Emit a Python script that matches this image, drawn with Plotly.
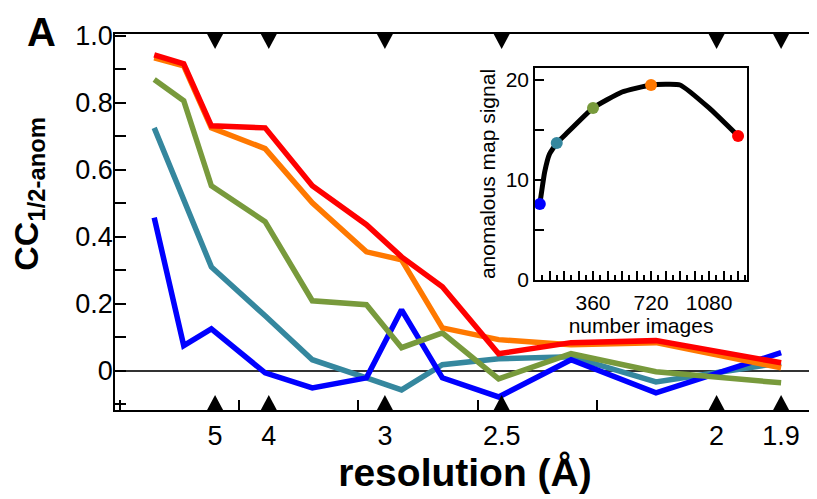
import plotly.graph_objects as go

# ---------------- data ----------------
# resolution (Å) of the bin points
resolution_A = [8.3, 6.1, 5.1, 4.05, 3.52, 3.11, 2.91, 2.72, 2.51, 2.30, 2.11, 1.90]
cc_red    = [0.943, 0.916, 0.731, 0.725, 0.552, 0.436, 0.340, 0.251, 0.051, 0.084, 0.090, 0.024]
cc_orange = [0.934, 0.910, 0.725, 0.663, 0.501, 0.355, 0.331, 0.128, 0.093, 0.078, 0.084, 0.009]
cc_green  = [0.869, 0.806, 0.552, 0.445, 0.209, 0.197, 0.069, 0.113, -0.024, 0.051, -0.003, -0.036]
cc_teal   = [0.725, 0.516, 0.310, 0.164, 0.033, -0.021, -0.057, 0.018, 0.036, 0.042, -0.033, 0.024]
cc_blue   = [0.457, 0.075, 0.125, -0.006, -0.051, -0.021, 0.182, -0.021, -0.078, 0.033, -0.066, 0.054]

# labelled resolution marks
res_ticks = [5, 4, 3, 2.5, 2, 1.9]
res_tick_text = ["5", "4", "3", "2.5", "2", "1.9"]

# inset: anomalous map signal vs number of images
n_images = [30, 60, 90, 135, 180, 360, 540, 720, 900, 1080, 1260]
map_signal = [7.6, 10.8, 12.6, 13.7, 14.4, 17.2, 18.8, 19.5, 19.5, 17.2, 14.4]
marker_images = [30, 135, 360, 720, 1260]
marker_signal = [7.6, 13.7, 17.2, 19.5, 14.4]

RED, ORANGE, GREEN, TEAL, BLUE = "#FF0000", "#FF7800", "#789A3C", "#35879E", "#0000FF"
series = [(cc_teal, TEAL), (cc_blue, BLUE), (cc_green, GREEN), (cc_orange, ORANGE), (cc_red, RED)]

inv_d2 = [1.0 / r ** 2 for r in resolution_A]
tick_pos = [1.0 / r ** 2 for r in res_ticks]

FAM = "Liberation Sans, Arial, sans-serif"
TICKFONT = dict(family=FAM, size=27, color="black")
INSETFONT = dict(family=FAM, size=21, color="black")

fig = go.Figure()
for vals, col in series:
    fig.add_trace(go.Scatter(x=inv_d2, y=vals, mode="lines",
                             line=dict(color=col, width=5.5), showlegend=False,
                             xaxis="x", yaxis="y"))

fig.add_trace(go.Scatter(x=n_images, y=map_signal, mode="lines",
                         line=dict(color="black", width=5, shape="spline", smoothing=0.4),
                         showlegend=False, xaxis="x2", yaxis="y2"))
fig.add_trace(go.Scatter(x=marker_images, y=marker_signal, mode="markers",
                         marker=dict(color=[BLUE, TEAL, GREEN, ORANGE, RED], size=12,
                                     line=dict(width=0)),
                         showlegend=False, xaxis="x2", yaxis="y2"))

y_vals = [round(-0.1 + 0.1 * i, 1) for i in range(12)]
y_text = ["0" if v == 0 else (f"{v:.1f}" if abs(round(v * 10)) % 2 == 0 and v > 0 else " ") for v in y_vals]

inset_x_vals = [90 * i for i in range(1, 15)]
inset_x_text = [str(v) if v in (360, 720, 1080) else " " for v in inset_x_vals]

# the page body adds an 8 px offset, so the figure is sized to fit the window
fig.update_layout(
    width=809, height=491,
    margin=dict(l=107, r=2, t=26, b=89),
    plot_bgcolor="white", paper_bgcolor="white",
    xaxis=dict(range=[-0.0019, 0.2912], tickmode="array", tickvals=tick_pos, ticktext=res_tick_text,
               ticks="", tickfont=TICKFONT, showgrid=False, zeroline=False, automargin=False,
               tickangle=0, ticklabelstandoff=1,
               showline=True, linecolor="black", linewidth=1.5, mirror=True,
               minor=dict(tickmode="linear", tick0=0, dtick=0.05, ticks="inside", ticklen=10,
                          tickwidth=1.5, tickcolor="black", showgrid=False),
               title=dict(text="<b>resolution (Å)</b>", standoff=8,
                          font=dict(family=FAM, size=39, color="black"))),
    yaxis=dict(range=[-0.117, 1.005], tickmode="array", tickvals=y_vals, ticktext=y_text,
               ticks="inside", ticklen=11, tickwidth=1.5, tickcolor="black",
               tickfont=TICKFONT, showgrid=False, automargin=False, ticklabelstandoff=-5,
               zeroline=True, zerolinecolor="#333333", zerolinewidth=1.5,
               showline=True, linecolor="black", linewidth=1.5, mirror=True),
    xaxis2=dict(domain=[0.6, 0.903], anchor="y2", range=[0, 1316],
                tickmode="array", tickvals=inset_x_vals, ticktext=inset_x_text,
                ticks="inside", ticklen=9, tickwidth=1.5, tickcolor="black",
                minor=dict(tickmode="linear", tick0=45, dtick=90, ticks="inside", ticklen=5,
                           tickwidth=1.5, tickcolor="black"),
                tickfont=INSETFONT, showgrid=False, zeroline=False, automargin=False,
                tickangle=0, ticklabelstandoff=3,
                showline=True, linecolor="black", linewidth=1.5, mirror=True,
                title=dict(text="number images", standoff=0, font=INSETFONT)),
    yaxis2=dict(domain=[0.3457, 0.9096], anchor="x2", range=[0, 21.2],
                tickmode="linear", tick0=0, dtick=10,
                ticks="inside", ticklen=9, tickwidth=1.5, tickcolor="black",
                minor=dict(tickmode="linear", tick0=0, dtick=5, ticks="inside", ticklen=9,
                           tickwidth=1.5, tickcolor="black"),
                tickfont=INSETFONT, showgrid=False, zeroline=False, automargin=False,
                ticklabelstandoff=0,
                showline=True, linecolor="black", linewidth=1.5, mirror=True,
                title=dict(text="anomalous map signal", standoff=4, font=INSETFONT)),
)

# resolution triangles on top and bottom axes
shapes = []
for p in tick_pos:
    shapes.append(dict(type="path", xref="x", yref="paper", xsizemode="pixel", ysizemode="pixel",
                       xanchor=p, yanchor=0, path="M-8,0 L8,0 L0,15 Z",
                       fillcolor="black", line=dict(width=0)))
    shapes.append(dict(type="path", xref="x", yref="paper", xsizemode="pixel", ysizemode="pixel",
                       xanchor=p, yanchor=1, path="M-8,0 L8,0 L0,-15 Z",
                       fillcolor="black", line=dict(width=0)))
fig.update_layout(shapes=shapes)

fig.add_annotation(text="<b>A</b>", xref="paper", yref="paper", x=-0.1057, y=1.005,
                   xanchor="center", yanchor="middle", showarrow=False,
                   font=dict(family=FAM, size=40, color="black"))

# y-axis title placed as in the reference (above the plot centre)
fig.add_annotation(text="<b>CC<sub>1/2-anom</sub></b>", xref="paper", yref="paper",
                   x=-0.123, y=0.575, textangle=-90, xanchor="center", yanchor="middle",
                   showarrow=False, font=dict(family=FAM, size=34, color="black"))

fig.write_html("out.html")
